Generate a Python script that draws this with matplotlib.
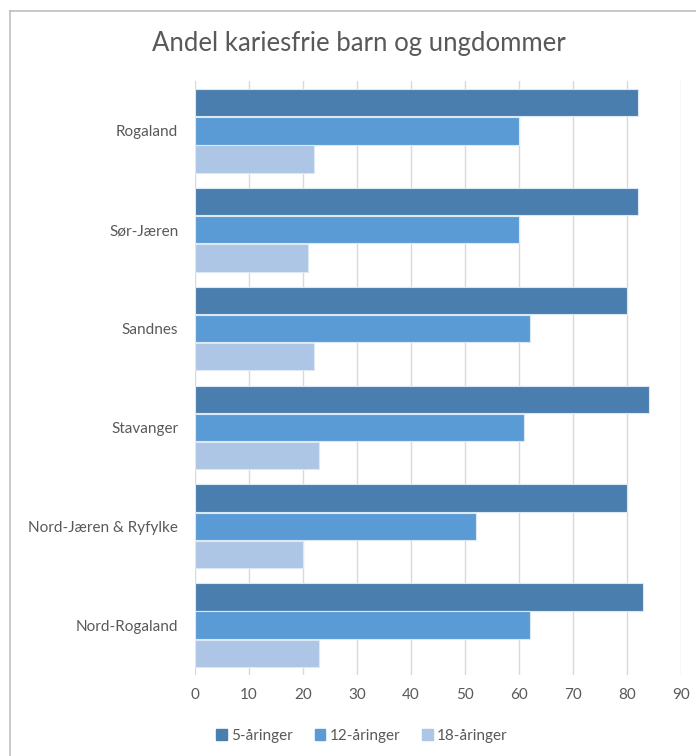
import matplotlib.pyplot as plt
import numpy as np
from matplotlib.lines import Line2D

# Data
regions = ["Rogaland", "Sør-Jæren", "Sandnes", "Stavanger",
           "Nord-Jæren & Ryfylke", "Nord-Rogaland"]
age5 = [82, 82, 80, 84, 80, 83]
age12 = [60, 60, 62, 61, 52, 62]
age18 = [22, 21, 22, 23, 20, 23]
series_names = ["5-åringer", "12-åringer", "18-åringer"]
colors = ["#4A7EAE", "#5B9BD5", "#ADC6E5"]

plt.rcParams['font.family'] = ['Lato', 'DejaVu Sans']

fig = plt.figure(figsize=(6.96, 7.56), dpi=100)
ax = fig.add_axes([0.2802, 0.1078, 0.9784 - 0.2802, 0.8922 - 0.1078])

# Nord-Rogaland at bottom, Rogaland at top
y = np.arange(len(regions))[::-1]
h = 0.275
step = 0.285
for i, (vals, name, col) in enumerate(zip([age5, age12, age18], series_names, colors)):
    ax.barh(y + (1 - i) * step, vals, height=h, color=col,
            edgecolor="#DDE8F5", linewidth=0.8, label=name, zorder=3)

ax.set_xlim(0, 90)
ax.set_ylim(-0.5, len(regions) - 0.5)
ax.set_xticks(range(0, 91, 10))
ax.set_yticks(y)
ax.set_yticklabels(regions)
ax.tick_params(axis="both", length=0, colors="#595959", labelsize=11)
ax.tick_params(axis="x", pad=10)
ax.tick_params(axis="y", pad=12)
ax.grid(axis="x", color="#D9D9D9", linewidth=1.0, zorder=0)
for s in ax.spines.values():
    s.set_visible(False)

fig.text(0.515, 0.943, "Andel kariesfrie barn og ungdommer",
         ha="center", va="center", fontsize=18.5, color="#595959")

handles = [plt.Rectangle((0, 0), 1, 1, color=c) for c in colors]
fig.legend(handles, series_names, loc="center", bbox_to_anchor=(0.52, 0.027),
           ncol=3, frameon=False, fontsize=11, labelcolor="#595959",
           handlelength=0.7, handleheight=0.7, handletextpad=0.3,
           columnspacing=1.4)

# chart frame (left and top edges visible)
fig.add_artist(Line2D([10 / 696, 10 / 696], [0, 1 - 11 / 756], color="#BFBFBF",
                      linewidth=1.2, transform=fig.transFigure))
fig.add_artist(Line2D([10 / 696, 1], [1 - 11 / 756, 1 - 11 / 756], color="#BFBFBF",
                      linewidth=1.2, transform=fig.transFigure))

plt.savefig("out.png", dpi=100)
